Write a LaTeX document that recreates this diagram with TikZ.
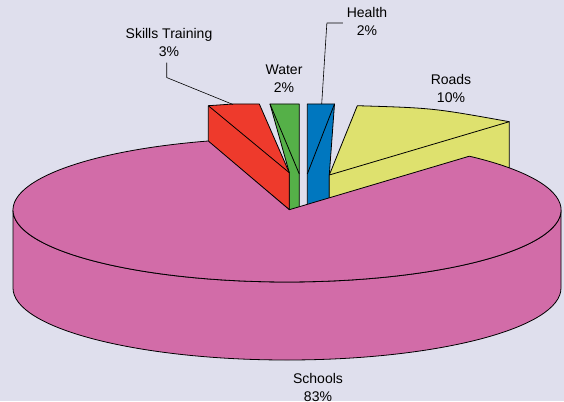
\documentclass[tikz,border=0pt]{standalone}
\usepackage{fontspec}
\setmainfont{Liberation Sans}
\definecolor{chartbg}{RGB}{223,223,237}
\definecolor{schoolspink}{RGB}{210,108,168}
\definecolor{skillsred}{RGB}{238,58,44}
\definecolor{watergreen}{RGB}{85,176,72}
\definecolor{healthblue}{RGB}{0,119,191}
\definecolor{roadsyellow}{RGB}{222,225,110}
\begin{document}
\begin{tikzpicture}[x=1pt,y=1pt,line width=0.8pt,line join=round]
    \tikzstyle{every node}+=[inner sep=0pt, align=center, font=\fontsize{14}{18}\selectfont]
    \fill [chartbg] (0,0) rectangle (564,-401);
    \useasboundingbox (0,0) rectangle (564,-401);
    \draw [black, fill=watergreen] (270,-104) -- (299.3,-104) -- (299.3,-210) -- (289.3,-212) -- (289.3,-172.7) -- cycle;
    \draw [black] (270,-104) -- (299.3,-174);
    \draw [black, fill=skillsred] (208.3,-105.7) -- (233,-104) -- (259.3,-104) -- (289.3,-172.7) -- (289.3,-209.7) -- (208.3,-141.7) -- cycle;
    \draw [black] (208.3,-105.7) -- (289.3,-172.7);
    \draw [black, fill=healthblue] (307.3,-104) -- (334.5,-104) -- (329.3,-174.7) -- (329.3,-202) -- (307.3,-208) -- cycle;
    \draw [black] (334.5,-104) -- (307.3,-174);
    \draw [black, fill=roadsyellow] (329.3,-175) -- (357.3,-105.7) .. controls (433,-108) .. (509.3,-121.7) -- (509.3,-172) -- (329.3,-200) -- cycle;
    \draw [black] (329.3,-175) -- (509.3,-121.7);
    \draw [black, fill=schoolspink] (13,-210) -- (13,-288) arc (180:360:274 and 72) -- (561,-210) arc (0:-180:274 and 72) -- cycle;
    \draw [black, fill=schoolspink] (289.3,-209.7) -- (208.3,-141) arc (106.7:408.3:274 and 72) -- cycle;
    \node (skills) at (169,-42) {Skills Training\\3\%};
    \node (water) at (284,-78.5) {Water\\2\%};
    \node (health) at (367,-21.5) {Health\\2\%};
    \node (roads) at (451,-88.5) {Roads\\10\%};
    \node (schools) at (318,-387) {Schools\\83\%};
    \coordinate (skillstip) at (233,-104.5);
    \coordinate (healthtip) at (321.7,-104);
    \draw [black, line width=0.6pt] ([shift={(-2.3,-6)}]skills.south) -- ++(0,-15) -- (skillstip);
    \draw [black, line width=0.6pt] ([shift={(-3.5,-1.5)}]health.west) -- ++(-16,0) -- (healthtip);
\end{tikzpicture}
\end{document}
